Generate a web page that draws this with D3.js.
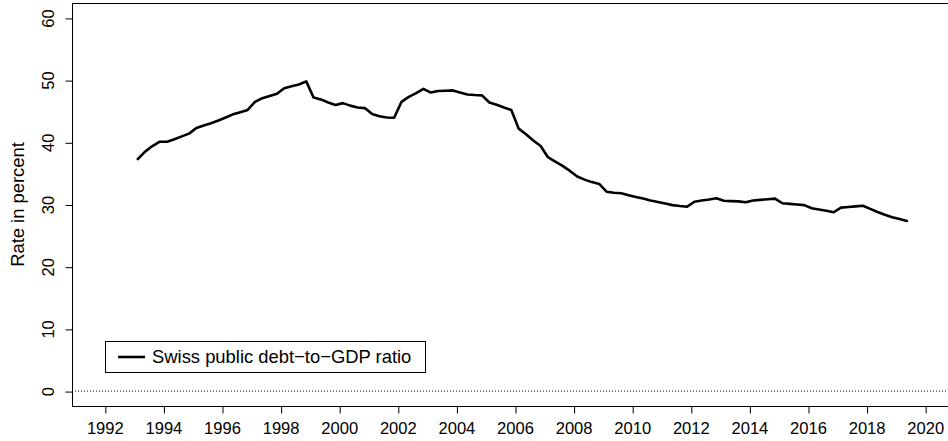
<!DOCTYPE html>
<html>
<head>
<meta charset="utf-8">
<script src="https://cdn.jsdelivr.net/npm/d3@7/dist/d3.min.js"></script>
<style>
  html, body { margin: 0; padding: 0; background: #fff; }
  svg { display: block; }
  text { font-family: "Liberation Sans", Arial, sans-serif; fill: #000; }
</style>
</head>
<body>
<svg id="chart" width="948" height="441"></svg>
<script>
// Swiss public debt-to-GDP ratio, quarterly, 1993Q1 – 2019Q2 (percent)
const startYear = 1993;
const debtRatio = [
  37.3, 38.5, 39.4, 40.1,   // 1993
  40.1, 40.5, 40.95, 41.4,  // 1994
  42.3, 42.7, 43.06, 43.5,  // 1995
  44.0, 44.5, 44.85, 45.2,  // 1996
  46.5, 47.1, 47.45, 47.8,  // 1997
  48.7, 49.0, 49.3, 49.8,   // 1998
  47.2, 46.9, 46.4, 46.0,   // 1999
  46.3, 45.9, 45.6, 45.5,   // 2000
  44.55, 44.2, 43.98, 43.96,// 2001
  46.5, 47.3, 47.9, 48.6,   // 2002
  48.0, 48.25, 48.3, 48.35, // 2003
  48.0, 47.7, 47.6, 47.55,  // 2004
  46.4, 46.05, 45.6, 45.2,  // 2005
  42.2, 41.3, 40.3, 39.4,   // 2006
  37.6, 36.9, 36.2, 35.4,   // 2007
  34.5, 34.0, 33.6, 33.3,   // 2008
  32.06, 31.9, 31.8, 31.5,  // 2009
  31.2, 30.95, 30.65, 30.4, // 2010
  30.15, 29.9, 29.75, 29.65,// 2011
  30.45, 30.65, 30.8, 31.0, // 2012
  30.6, 30.55, 30.5, 30.35, // 2013
  30.65, 30.75, 30.85, 30.94,// 2014
  30.2, 30.1, 30.0, 29.9,   // 2015
  29.4, 29.2, 29.0, 28.75,  // 2016
  29.5, 29.6, 29.7, 29.8,   // 2017
  29.3, 28.8, 28.35, 27.95, // 2018
  27.65, 27.35              // 2019
];
const xTicks = [1992, 1994, 1996, 1998, 2000, 2002, 2004, 2006, 2008, 2010, 2012, 2014, 2016, 2018, 2020];
const yTicks = [0, 10, 20, 30, 40, 50, 60];
const seriesName = "Swiss public debt\u2212to\u2212GDP ratio";
const yTitle = "Rate in percent";

// each observation sits in the middle of its quarter
const points = debtRatio.map((v, i) => ({ t: startYear + i * 0.25 + 0.125, v }));

const svg = d3.select("#chart");
const box = { left: 72, top: 3, right: 958, bottom: 406 };

// axis ranges padded by 4% on each side
const xLim = [1992, 2020], yLim = [0, 60];
const xPad = (xLim[1] - xLim[0]) * 0.04, yPad = (yLim[1] - yLim[0]) * 0.04;
const x = d3.scaleLinear().domain([xLim[0] - xPad, xLim[1] + xPad]).range([box.left, box.right]);
const y = d3.scaleLinear().domain([yLim[0] - yPad, yLim[1] + yPad]).range([box.bottom, box.top]);

const baseFont = 18.4;          // title and legend
const axisFont = baseFont * 0.9; // tick labels

// reference line at zero
svg.append("line")
  .attr("x1", box.left).attr("x2", box.right)
  .attr("y1", y(0)).attr("y2", y(0))
  .attr("stroke", "#000").attr("stroke-width", 1)
  .attr("stroke-dasharray", "1,2");

// series line
svg.append("path")
  .datum(points)
  .attr("fill", "none")
  .attr("stroke", "#000")
  .attr("stroke-width", 2.6)
  .attr("stroke-linejoin", "round")
  .attr("stroke-linecap", "round")
  .attr("d", d3.line().x(d => x(d.t)).y(d => y(d.v)));

// plot frame
svg.append("rect")
  .attr("x", box.left + 0.5).attr("y", box.top + 0.5)
  .attr("width", box.right - box.left).attr("height", box.bottom - box.top)
  .attr("fill", "none").attr("stroke", "#000").attr("stroke-width", 1);

// x axis
const xAxis = svg.append("g")
  .attr("transform", `translate(0,${box.bottom + 0.5})`)
  .call(d3.axisBottom(x).tickValues(xTicks).tickFormat(d3.format("d")).tickSize(7).tickSizeOuter(0));
xAxis.select(".domain").remove();
xAxis.selectAll(".tick line").attr("stroke", "#000").attr("transform", "translate(0.5,0)");
xAxis.selectAll(".tick text")
  .attr("y", 16).attr("dy", "0.71em")
  .style("font-family", "'Liberation Sans', Arial, sans-serif")
  .style("font-size", axisFont + "px");

// y axis with labels parallel to the axis
const yAxis = svg.append("g")
  .attr("transform", `translate(${box.left + 0.5},0)`)
  .call(d3.axisLeft(y).tickValues(yTicks).tickSize(7).tickSizeOuter(0));
yAxis.select(".domain").remove();
yAxis.selectAll(".tick line").attr("stroke", "#000").attr("transform", "translate(0,0.5)");
yAxis.selectAll(".tick text")
  .attr("x", null).attr("dy", null)
  .attr("text-anchor", "middle")
  .attr("transform", "translate(-19,0) rotate(-90)")
  .style("font-family", "'Liberation Sans', Arial, sans-serif")
  .style("font-size", axisFont + "px");

// y axis title
svg.append("text")
  .attr("transform", `translate(24,${(box.top + box.bottom) / 2}) rotate(-90)`)
  .attr("text-anchor", "middle")
  .style("font-size", baseFont + "px")
  .text(yTitle);

// legend
const legend = svg.append("g");
legend.append("rect")
  .attr("x", 105.5).attr("y", 341.5).attr("width", 320).attr("height", 31)
  .attr("fill", "#fff").attr("stroke", "#000").attr("stroke-width", 1);
legend.append("line")
  .attr("x1", 118).attr("x2", 145).attr("y1", 357).attr("y2", 357)
  .attr("stroke", "#000").attr("stroke-width", 2.6);
legend.append("text")
  .attr("x", 152).attr("y", 357).attr("dy", "0.35em")
  .style("font-size", baseFont + "px")
  .text(seriesName);
</script>
</body>
</html>
